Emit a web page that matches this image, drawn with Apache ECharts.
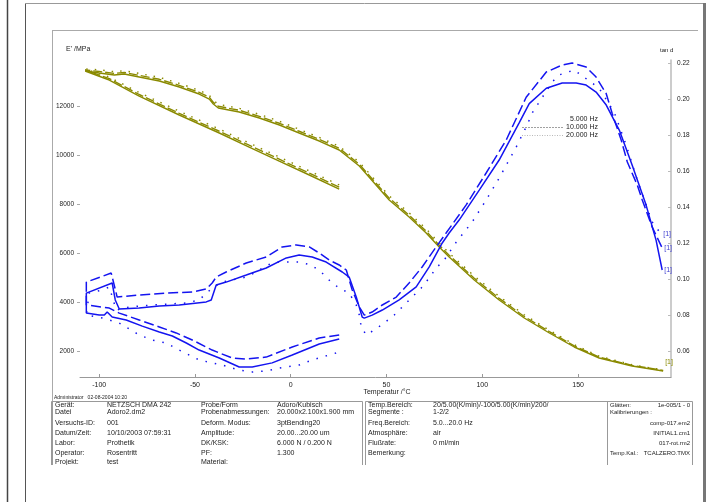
<!DOCTYPE html>
<html><head><meta charset="utf-8">
<script src="https://cdn.jsdelivr.net/npm/echarts@6/dist/echarts.min.js"></script>
<style>html,body{margin:0;padding:0;background:#fff}#c{width:707px;height:502px}</style>
</head><body><div id="c"></div>
<script>
// ---- axis ticks ----
const xTicks = [-100, -50, 0, 50, 100, 150];
const eTicks = [2000, 4000, 6000, 8000, 10000, 12000];
const tanTicks = [0.06, 0.08, 0.10, 0.12, 0.14, 0.16, 0.18, 0.20, 0.22];

// ---- E' (MPa): cooling segment 25 -> -107 °C ----
const eCoolT  = [25.3, 9.7, -6, -21.7, -37.3, -58.2, -79.1, -94.7, -107.3];
const eCool5  = [8612, 9184, 9755, 10326, 10898, 11633, 12408, 13061, 13428];
const eCool10 = [8690, 9260, 9830, 10400, 10970, 11700, 12470, 13120, 13470];
const eCool20 = [8780, 9350, 9920, 10490, 11060, 11790, 12550, 13180, 13510];

// ---- E' (MPa): heating segment -107 -> 195 °C ----
const eHeatT  = [-107.3, -100, -92.1, -86.9, -79.1, -68.6, -58.2, -47.8, -42.5, -40.4, -37.8, -26.9, -16.4, -5.9, 4.4, 14.9, 25.3, 35.8, 43.6, 51.4, 61.8, 70.7, 77.5, 82.7, 95.8, 108.8, 121.9, 135, 148, 161, 178.2, 194.4];
const eHeat5  = [13428, 13347, 13265, 13306, 13184, 13020, 12775, 12490, 12286, 12082, 11918, 11755, 11510, 11224, 10898, 10571, 10204, 9551, 8857, 8163, 7469, 6816, 6245, 5837, 4898, 4082, 3347, 2735, 2163, 1714, 1388, 1184];
const eHeat10 = [13470, 13410, 13330, 13370, 13250, 13090, 12845, 12560, 12360, 12150, 11990, 11825, 11580, 11295, 10970, 10640, 10275, 9625, 8930, 8240, 7545, 6890, 6320, 5910, 4970, 4150, 3410, 2790, 2210, 1750, 1415, 1205];
const eHeat20 = [13510, 13480, 13400, 13440, 13330, 13170, 12925, 12640, 12440, 12230, 12070, 11905, 11660, 11375, 11050, 10720, 10355, 9710, 9020, 8330, 7640, 6985, 6410, 6000, 5060, 4230, 3480, 2850, 2260, 1790, 1440, 1225];

// ---- tan d, 5 Hz  [T, tan d] (cooling then heating) ----
const tan5 = [[25.3,0.0669],[14.9,0.0642],[0.8,0.0581],[-9.7,0.0537],[-20.1,0.0514],[-26.9,0.0514],[-37.3,0.0564],[-47.8,0.0608],[-54.5,0.0647],[-61.8,0.0686],[-68.6,0.0708],[-77.5,0.0741],[-85.9,0.0775],[-93.2,0.0791],[-95.8,0.0819],[-97.3,0.0802],[-100,0.0802],[-106.7,0.0813],
  [-106.7,0.0924],[-93.2,0.0980],[-91.6,0.0886],[-89.5,0.0836],[-79.1,0.0841],[-68.6,0.0852],[-58.2,0.0858],[-44.1,0.0875],[-41.5,0.0886],[-38.9,0.0969],[-33.7,0.0985],[-23.2,0.1024],[-12.8,0.1063],[-2.3,0.1119],[4.4,0.1135],[11.2,0.1124],[18.5,0.1096],[26.9,0.1041],[30.5,0.1013],[34.2,0.0902],[37.3,0.0791],[38.4,0.0785],[42.5,0.0802],[47.8,0.0830],[56.6,0.0886],[65.5,0.0958],[72.3,0.1069],[79.1,0.1202],[82.7,0.1257],[87.9,0.1329],[98.4,0.1495],[108.8,0.1662],[119.3,0.1870],[124.5,0.1975],[133.4,0.2060],[141.7,0.2089],[149,0.2089],[154.2,0.2078],[159.4,0.2039],[164.7,0.1967],[171.5,0.1828],[178.2,0.1634],[185.5,0.1412],[190.7,0.1218],[193.9,0.1052]];

// ---- tan d, 10 Hz ----
const tan10 = [[25.3,0.0692],[14.9,0.0675],[0.8,0.0625],[-12.8,0.0569],[-23.2,0.0558],[-30.5,0.0564],[-41,0.0608],[-51.4,0.0664],[-59.8,0.0703],[-68.6,0.0736],[-79.1,0.0775],[-89.5,0.0813],[-94.7,0.0841],[-106.7,0.0858],
  [-106.7,0.0985],[-93.7,0.1035],[-90.6,0.0902],[-79.1,0.0913],[-65,0.0924],[-51.4,0.0930],[-44.1,0.0947],[-41,0.0980],[-38.9,0.1013],[-33.7,0.1041],[-23.2,0.1091],[-12.8,0.1124],[-4.4,0.1180],[2.9,0.1191],[9.7,0.1180],[14.9,0.1146],[20.1,0.1107],[25.3,0.1080],[29,0.1052],[32.1,0.0941],[35.8,0.0847],[38.4,0.0802],[42.5,0.0819],[47.8,0.0858],[55.1,0.0902],[61.8,0.0980],[68.6,0.1069],[75.9,0.1180],[81.1,0.1257],[91.6,0.1413],[102,0.1590],[112.5,0.1773],[122.9,0.2010],[133.4,0.2150],[141.7,0.2189],[146.9,0.2200],[154.2,0.2178],[159.4,0.2122],[164.7,0.2030],[167.8,0.1920],[172.5,0.1773],[175.7,0.1651],[180.9,0.1523],[183.5,0.1440],[188.7,0.1290],[193.9,0.1174]];

// ---- tan d, 20 Hz ----
const tan20 = [[23.7,0.0592],[16.4,0.0569],[11.2,0.0553],[4.4,0.0525],[-6,0.0508],[-12.8,0.0492],[-20.6,0.0486],[-26.9,0.0497],[-35.8,0.0525],[-47.8,0.0553],[-58.2,0.0608],[-65,0.0647],[-72.3,0.0664],[-79.1,0.0692],[-89.5,0.0758],[-98.4,0.0786],[-106.7,0.0802],
  [-105.2,0.0924],[-98.4,0.0941],[-94.7,0.0958],[-91.1,0.0830],[-84.3,0.0847],[-72.3,0.0858],[-54.5,0.0869],[-47.8,0.0886],[-41,0.0952],[-35.8,0.0985],[-23.2,0.1013],[-18,0.1041],[-12.3,0.1080],[-7,0.1096],[-0.8,0.1096],[4.4,0.1096],[10.7,0.1080],[15.9,0.1041],[21.1,0.0985],[25.3,0.0952],[30.5,0.0924],[34.2,0.0858],[35.8,0.0802],[36.8,0.0736],[39.4,0.0692],[43.6,0.0719],[48.8,0.0758],[54,0.0802],[58.2,0.0847],[63.4,0.0902],[68.1,0.0952],[72.3,0.1008],[75.9,0.1063],[80.1,0.1107],[86.4,0.1207],[94.7,0.1318],[102,0.1440],[108.8,0.1562],[117.7,0.1734],[123.4,0.1856],[126,0.1922],[136.5,0.2095],[140.1,0.2134],[147.9,0.2161],[160.9,0.2062],[168.8,0.1928],[175.1,0.1745],[180.9,0.1551],[184.6,0.1440],[188.7,0.1318],[193.4,0.1250]];

// ---- texts ----
const legendTexts = ['5.000 Hz', '10.000 Hz', '20.000 Hz'];
const tableLeft = [
  ['Gerät:', 'NETZSCH DMA 242', 'Probe/Form', 'Adoro/Kubisch'],
  ['Datei', 'Adoro2.dm2', 'Probenabmessungen:', '20.000x2.100x1.900 mm'],
  ['Versuchs-ID:', '001', 'Deform. Modus:', '3ptBending20'],
  ['Datum/Zeit:', '10/10/2003 07:59:31', 'Amplitude:', '20.00...20.00 um'],
  ['Labor:', 'Prothetik', 'DK/KSK:', '6.000 N / 0.200 N'],
  ['Operator:', 'Rosentritt', 'PF:', '1.300'],
  ['Projekt:', 'test', 'Material:', '']
];
const tableMid = [
  ['Temp.Bereich:', '20/5.00(K/min)/-100/5.00(K/min)/200/'],
  ['Segmente :', '1-2/2'],
  ['Freq.Bereich:', '5.0...20.0 Hz'],
  ['Atmosphäre:', 'air'],
  ['Flußrate:', '0 ml/min'],
  ['Bemerkung:', '']
];
const tableRight = [
  ['Glätten:', '1e-005/1 - 0'],
  ['Kalibrierungen :', ''],
  ['', 'comp-017.em2'],
  ['', 'INITIAL1.cm1'],
  ['', '017-rot.rm2'],
  ['Temp.Kal.:', 'TCALZERO.TMX']
];
const rowY = [405, 412, 423, 433, 443, 453, 462];

const FONT = '"Liberation Sans", Arial, sans-serif';
const OLIVE = '#8a8a00';
const BLUE = '#1414f0';
const zip = (t, v) => t.map((x, i) => [x, v[i]]);

const chart = echarts.init(document.getElementById('c'), null, {renderer: 'canvas'});

function eSeries(name, data, dash, w) {
  return {name, type: 'line', yAxisIndex: 0, data, showSymbol: false, symbol: 'none', animation: false, z: 3,
    lineStyle: {color: OLIVE, width: w, type: dash}};
}
function tSeries(name, data, dash, w) {
  return {name, type: 'line', yAxisIndex: 1, data, showSymbol: false, symbol: 'none', animation: false, z: 4,
    lineStyle: {color: BLUE, width: w, type: dash},
    endLabel: {show: true, formatter: '[1]', color: '#4040d0', fontSize: 7, fontFamily: FONT, distance: 2}};
}

const g = [];
function txt(x, y, s, o) {
  g.push(Object.assign({type: 'text', x, y, z: 10, style: Object.assign({text: s, fill: '#222', font: '7px ' + FONT, textVerticalAlign: 'middle'}, o || {})}));
}
function ln(x1, y1, x2, y2, c, w, dash) {
  g.push({type: 'line', z: 9, shape: {x1, y1, x2, y2}, style: {stroke: c, lineWidth: w || 1, lineDash: dash || null}});
}
// frames
ln(7.5, 0, 7.5, 502, '#444', 1.5);
ln(25.5, 3, 25.5, 502, '#555', 1);
ln(25, 3.5, 704, 3.5, '#999', 1);
ln(704.5, 3, 704.5, 502, '#777', 3);
ln(52, 30.5, 698, 30.5, '#aaa', 1);
ln(52.5, 30, 52.5, 466, '#aaa', 1);
// table boxes
g.push({type: 'rect', z: 8, shape: {x: 51.5, y: 401.5, width: 311, height: 64}, style: {fill: '#fff', stroke: '#999', lineWidth: 1}});
g.push({type: 'rect', z: 8, shape: {x: 365.5, y: 401.5, width: 327, height: 64}, style: {fill: '#fff', stroke: '#999', lineWidth: 1}});
ln(607.5, 401, 607.5, 466, '#999', 1);
// texts
txt(66, 49, "E' /MPa", {font: '7px ' + FONT});
txt(660, 50, 'tan d', {font: '6px ' + FONT});
txt(387, 392, 'Temperatur /°C', {textAlign: 'center', font: '7px ' + FONT});
txt(54, 397.5, 'Administrator   02-08-2004 10:20', {font: '5px ' + FONT});
const lx = [55, 107, 201, 277];
tableLeft.forEach((r, i) => r.forEach((s, j) => { if (s) txt(lx[j], rowY[i], s); }));
const mx = [368, 433];
tableMid.forEach((r, i) => r.forEach((s, j) => { if (s) txt(mx[j], rowY[i], s); }));
tableRight.forEach((r, i) => {
  if (r[0]) txt(610, rowY[i], r[0], {font: '6px ' + FONT});
  if (r[1]) txt(690, rowY[i], r[1], {font: '6px ' + FONT, textAlign: 'right'});
});
// clip the partly hidden last row
g.push({type: 'rect', z: 11, shape: {x: 40, y: 465, width: 660, height: 10}, style: {fill: '#fff'}});
ln(51.5, 465.5, 362.5, 465.5, '#999', 1);
ln(365.5, 465.5, 692.5, 465.5, '#999', 1);
ln(52.5, 401, 52.5, 466, '#999', 1);
// legend labels and leader lines
txt(598, 119, legendTexts[0], {textAlign: 'right'});
txt(598, 127, legendTexts[1], {textAlign: 'right'});
txt(598, 135, legendTexts[2], {textAlign: 'right'});
ln(522, 127.5, 563, 127.5, '#777', 0.7, [2, 1]);
ln(522, 135.5, 563, 135.5, '#999', 0.7, [1, 1.5]);

chart.setOption({
  animation: false,
  textStyle: {fontFamily: FONT},
  grid: {left: 80, right: 36, top: 60, bottom: 125, containLabel: false},
  xAxis: {type: 'value', min: -110, max: 198.5,
    axisLine: {show: true, onZero: false, lineStyle: {color: '#999', width: 1}},
    axisTick: {show: true, inside: true, length: 3, lineStyle: {color: '#999'}, customValues: xTicks},
    axisLabel: {color: '#222', fontSize: 7, margin: 5, customValues: xTicks, formatter: v => String(v)},
    splitLine: {show: false}},
  yAxis: [
    {type: 'value', min: 939, max: 13878, position: 'left',
      axisLine: {show: false, onZero: false},
      axisTick: {show: true, length: 3, lineStyle: {color: '#aaa'}, customValues: eTicks},
      axisLabel: {color: '#222', fontSize: 6.5, margin: 6, customValues: eTicks, formatter: v => String(v)},
      splitLine: {show: false}},
    {type: 'value', min: 0.04586, max: 0.22168, position: 'right',
      axisLine: {show: true, onZero: false, lineStyle: {color: '#bbb', width: 1.5}},
      axisTick: {show: true, inside: true, length: 3, lineStyle: {color: '#bbb'}, customValues: tanTicks},
      axisLabel: {color: '#222', fontSize: 6.5, margin: 6, customValues: tanTicks, formatter: v => v.toFixed(2)},
      splitLine: {show: false}}
  ],
  series: [
    eSeries('E 5 Hz', zip(eCoolT, eCool5).concat(zip(eHeatT, eHeat5)), 'solid', 1.4),
    eSeries('E 10 Hz', zip(eCoolT, eCool10).concat(zip(eHeatT, eHeat10)), [9, 3], 1.4),
    Object.assign(eSeries('E 20 Hz', zip(eCoolT, eCool20).concat(zip(eHeatT, eHeat20)), [1.5, 7], 1.4),
      {endLabel: {show: true, formatter: '[1]', color: '#8a8a00', fontSize: 7, fontFamily: FONT, distance: 2, offset: [0, -8]}}),
    tSeries('tan 5 Hz', tan5, 'solid', 1.5),
    tSeries('tan 10 Hz', tan10, [10, 4], 1.5),
    tSeries('tan 20 Hz', tan20, [1.5, 8], 1.5)
  ],
  graphic: g
});
</script></body></html>
